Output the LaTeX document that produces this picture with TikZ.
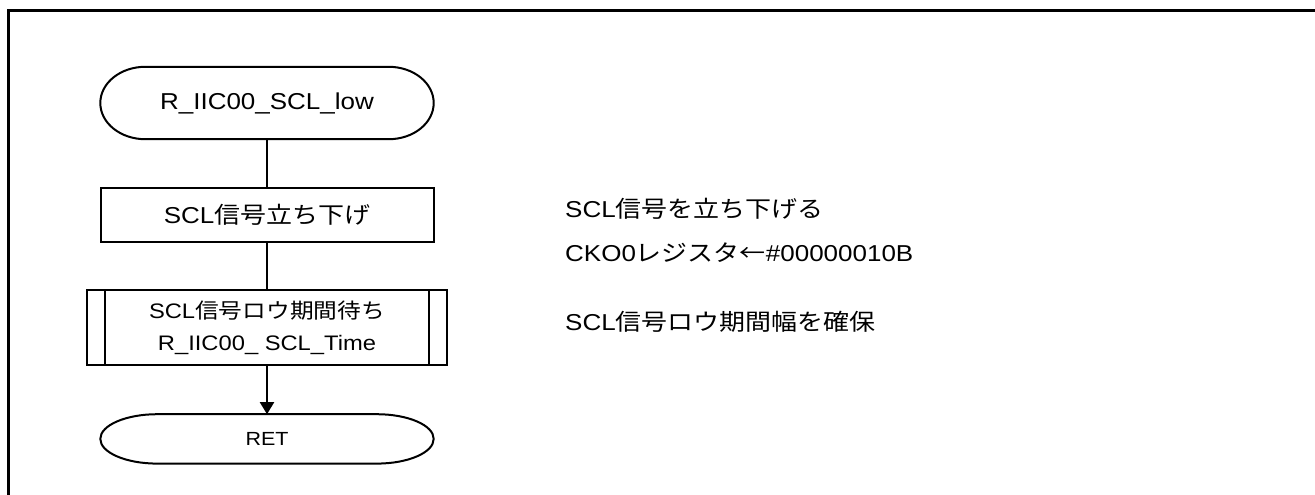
\documentclass[tikz,border=0pt]{standalone}
\usepackage{fontspec}
\setmainfont{Liberation Sans}[FakeStretch=1.13]
\newfontfamily\jp{Noto Sans CJK JP}[FakeStretch=1.13]
\usetikzlibrary{arrows.meta,positioning,calc}

\begin{document}
\begin{tikzpicture}[
  x=1pt, y=-1pt,
  >={Triangle[length=12pt,width=14pt]},
  node distance=47pt,
  line/.style={line width=2pt},
  terminal/.style={minimum width=333pt, inner sep=0pt, font=\fontsize{23}{28}\selectfont},
  procbox/.style={draw, line width=2pt, minimum width=333pt, minimum height=54pt,
                  font=\fontsize{23}{28}\selectfont},
  subbox/.style={draw, line width=2pt, minimum width=360pt, minimum height=75pt,
                 align=center, font=\fontsize{21}{32}\selectfont},
  note/.style={anchor=base west, inner sep=0pt, font=\fontsize{23}{28}\selectfont},
  arrow/.style={->, line width=2pt}
]
\useasboundingbox (0,0) rectangle (1315,495);

% outer frame (cut at right and bottom)
\draw[line width=3pt] (8,496) -- (8,11) -- (1316,11);

% flow
\node[terminal, minimum height=72pt] (start) at (267,103) {R\_IIC00\_SCL\_low};
\node[procbox, below=48pt of start] (fall) {SCL{\jp 信号立ち下げ}};
\node[subbox, below=46pt of fall] (wait) {SCL{\jp 信号ロウ期間待ち}\\R\_IIC00\_ SCL\_Time};
\node[terminal, minimum height=49pt, below=48pt of wait,
      font=\fontsize{19}{23}\selectfont] (ret) {RET};

% terminal outlines
\foreach \t/\rx in {start/45, ret/57}
  \draw[line] let \p1=(\t.north east), \p2=(\t.south west), \n1={(\y1-\y2)/2} in
    (\x2+\rx pt,\y1) -- (\x1-\rx pt,\y1)
    arc[start angle=90, end angle=-90, x radius=\rx pt, y radius=\n1]
    -- (\x2+\rx pt,\y2)
    arc[start angle=270, end angle=90, x radius=\rx pt, y radius=\n1] -- cycle;

% predefined process bars
\draw[line] ([xshift=19pt]wait.north west) -- ([xshift=19pt]wait.south west);
\draw[line] ([xshift=-19pt]wait.north east) -- ([xshift=-19pt]wait.south east);

\draw[line]  (start) -- (fall);
\draw[line]  (fall)  -- (wait);
\draw[arrow] (wait)  -- (ret);

% notes
\node[note] (note1) at (565,217) {SCL{\jp 信号を立ち下げる}};
\node[note] (note2) at (565,261) {CKO0{\jp レジスタ←}\#00000010B};
\node[note] (note3) at (565,330) {SCL{\jp 信号ロウ期間幅を確保}};
\end{tikzpicture}
\end{document}
